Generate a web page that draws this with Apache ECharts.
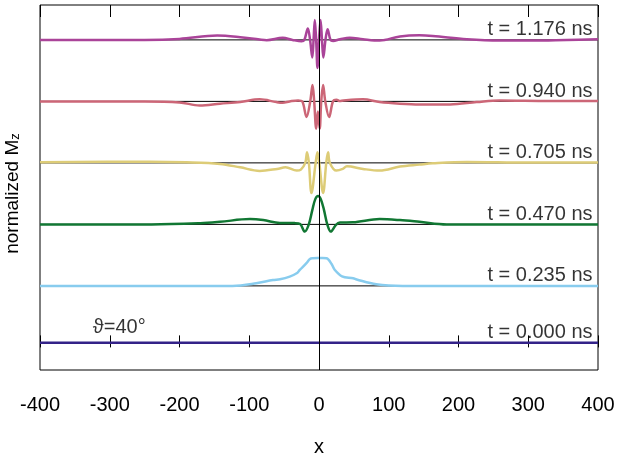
<!DOCTYPE html>
<html><head><meta charset="utf-8">
<script src="https://cdn.jsdelivr.net/npm/echarts@6/dist/echarts.min.js"></script>
<style>html,body{margin:0;padding:0;background:#fff}#c{width:622px;height:458px}</style>
</head><body><div id="c"></div>
<script>
// ---- data ----
const timeLabels = ['t = 0.000 ns','t = 0.235 ns','t = 0.470 ns','t = 0.705 ns','t = 0.940 ns','t = 1.176 ns'];
const offsets = [0.076, 1, 2, 3, 4, 5];
const colors = ['#332288','#88CCEE','#117733','#DDCC77','#CC6677','#AA4499'];
const angleLabel = 'ϑ=40°';
const angleLabelX = -325;

// t = 0.000 ns
const xT0 = [-400, 400];
const mzT0 = [0, 0];
// t = 0.235 ns
const xT1 = [-400,-124,-90,-66,-56,-42,-32,-27.5,-18,-13,-8.5,-2,5,11,18,22.7,33,49,54,82,120,400];
const mzT1 = [0,0,0.042,0.096,0.107,0.15,0.205,0.26,0.37,0.437,0.449,0.454,0.454,0.449,0.356,0.259,0.156,0.124,0.104,0.026,0,0];
// t = 0.470 ns
const xT2 = [-400,-240,-170,-142,-99,-80,-56,-35,-27,-20.4,-14.6,-9.6,-5.3,-1.3,2.6,7.2,11.9,16.9,24,30,48.5,87,116,144,183,400];
const mzT2 = [0,0,0.02,0.042,0.086,0.07,0.024,0.021,0.005,-0.117,0,0.233,0.411,0.46,0.41,0.233,0,-0.117,-0.011,0.029,0.033,0.086,0.07,0.042,0,0];
// t = 0.705 ns
const xT3 = [-400,-243,-190,-142,-113,-85,-60,-48,-32,-26,-19.7,-17.1,-14.5,-10.8,-4.8,-2.2,0.4,5.9,10.4,13,15.6,25,34,40,63,87,116,144,163,212,300,400];
const mzT3 = [0.01,0.02,0.01,-0.016,-0.072,-0.13,-0.098,-0.072,-0.125,-0.109,0,0.172,0,-0.49,0,0.172,0,-0.49,0,0.172,0,-0.125,-0.098,-0.055,-0.098,-0.125,-0.06,-0.028,-0.007,0.016,0.005,0.005];
// t = 0.940 ns
const xT4 = [-400,-250,-200,-171,-142,-113,-85,-61,-52,-42,-30,-24,-17.9,-12.6,-9.3,-6.9,-4.0,-1.6,1.0,3.2,5.9,9.0,14.5,20,25,30,35,63,87,116,144,188,226,259,330,400];
const mzT4 = [0,0,-0.016,-0.065,-0.037,-0.011,0.033,-0.011,-0.021,0,0.016,0,-0.255,0,0.268,0,-0.444,-0.163,-0.444,0,0.268,0,-0.255,0,0.028,0.005,0.016,0.033,-0.011,-0.037,-0.049,-0.049,-0.011,0.016,0.008,0.008];
// t = 1.176 ns
const xT5 = [-400,-250,-200,-146,-113,-85,-75,-52,-38,-25,-21,-16,-12.8,-9.6,-7.8,-6,-4.1,-2.2,0,2.2,4.3,6.2,9.3,12.3,16.5,20.2,30,44,63,87,116,144,163,212,259,306,355,400];
const mzT5 = [0,0,0.016,0.07,0.044,0.005,-0.005,0.033,0,-0.021,0,0.187,0,-0.285,0,0.325,0,-0.455,0,0.325,0,-0.285,0,0.175,0,-0.016,0.01,0.037,0.011,-0.011,0.057,0.076,0.065,0.011,-0.011,-0.011,0,0.011];

const xs = [xT0,xT1,xT2,xT3,xT4,xT5];
const mzs = [mzT0,mzT1,mzT2,mzT3,mzT4,mzT5];

// ---- chart ----
const FONT = '"Liberation Sans", Arial, Helvetica, sans-serif';
const chart = echarts.init(document.getElementById('c'), null, {renderer: 'canvas'});
const series = [];

offsets.forEach((o, i) => {
  series.push({
    type: 'line', z: 1, silent: true, symbol: 'none',
    lineStyle: {color: '#000', width: 1},
    data: [[-400, o], [400, o]],
    markLine: i === 0 ? {
      silent: true, symbol: ['none','none'], label: {show: false},
      lineStyle: {color: '#000', width: 1, type: 'solid'},
      data: [{xAxis: 0}]
    } : undefined
  });
});

xs.forEach((xArr, i) => {
  series.push({
    type: 'line', z: 3, silent: true, symbol: 'none', smooth: 0.35,
    lineStyle: {color: colors[i], width: 2.5},
    data: xArr.map((x, k) => [x, offsets[i] + mzs[i][k]])
  });
});

series.push({
  type: 'scatter', z: 4, silent: true, symbolSize: 1,
  itemStyle: {color: 'rgba(0,0,0,0)'},
  data: offsets.map(o => [400, o]),
  label: {
    show: true, position: 'left', distance: 5, offset: [0, -10],
    formatter: p => timeLabels[p.dataIndex],
    color: '#000', fontSize: 20, fontFamily: FONT
  }
});
series.push({
  type: 'scatter', z: 4, silent: true, symbolSize: 1,
  itemStyle: {color: 'rgba(0,0,0,0)'},
  data: [[angleLabelX, offsets[0]]],
  label: {
    show: true, position: 'right', distance: 0, offset: [0, -15],
    formatter: angleLabel,
    color: '#000', fontSize: 20, fontFamily: FONT
  }
});

const yMin = -0.3675, yMax = 5.5675;

chart.setOption({
  animation: false,
  backgroundColor: '#fff',
  grid: {left: 40, right: 24, top: 5, bottom: 88, outerBoundsMode: 'none', containLabel: false,
         show: true, borderColor: '#000', borderWidth: 1, backgroundColor: 'transparent'},
  xAxis: [{
    type: 'value', min: -400, max: 400, interval: 100, position: 'bottom',
    axisLine: {show: false},
    axisTick: {show: true, inside: true, length: 12, lineStyle: {color: '#000', width: 1}},
    splitLine: {show: false},
    axisLabel: {color: '#000', fontSize: 20, fontFamily: FONT, margin: 25},
    name: 'x', nameLocation: 'middle', nameGap: 67,
    nameTextStyle: {color: '#000', fontSize: 20, fontFamily: FONT}
  }, {
    type: 'value', min: -400, max: 400, interval: 100, position: 'top',
    axisLine: {show: false},
    axisTick: {show: true, inside: true, length: 12, lineStyle: {color: '#000', width: 1}},
    splitLine: {show: false},
    axisLabel: {show: false}
  }],
  yAxis: {
    type: 'value', min: yMin, max: yMax,
    axisLine: {show: false}, axisTick: {show: false}, axisLabel: {show: false}, splitLine: {show: false},
    name: '{a|normalized M}{s|z}', nameLocation: 'middle', nameGap: 18, nameRotate: 90,
    nameTextStyle: {
      color: '#000', fontFamily: FONT, padding: [0, 12, 0, 0],
      rich: {
        a: {fontSize: 19, fontFamily: FONT, color: '#000'},
        s: {fontSize: 13, fontFamily: FONT, color: '#000', verticalAlign: 'bottom'}
      }
    }
  },
  series: series
});
</script>
</body></html>
